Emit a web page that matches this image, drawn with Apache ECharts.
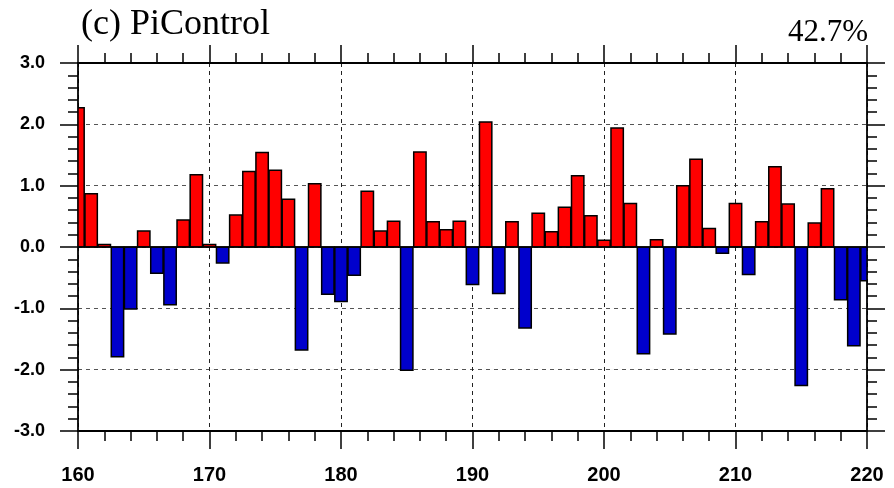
<!DOCTYPE html>
<html>
<head>
<meta charset="utf-8">
<script src="https://cdn.jsdelivr.net/npm/echarts@6/dist/echarts.min.js"></script>
<style>
html,body{margin:0;padding:0;background:#fff;}
#c{width:894px;height:488px;}
</style>
</head>
<body>
<div id="c"></div>
<script>
var years = [160,161,162,163,164,165,166,167,168,169,170,171,172,173,174,175,176,177,178,179,
             180,181,182,183,184,185,186,187,188,189,190,191,192,193,194,195,196,197,198,199,
             200,201,202,203,204,205,206,207,208,209,210,211,212,213,214,215,216,217,218,219,220];
var values = [2.27,0.87,0.04,-1.79,-1.01,0.26,-0.43,-0.94,0.44,1.18,
              0.04,-0.26,0.52,1.23,1.54,1.25,0.78,-1.68,1.03,-0.77,
              -0.89,-0.46,0.91,0.26,0.42,-2.01,1.55,0.41,0.28,0.42,
              -0.61,2.04,-0.76,0.41,-1.32,0.55,0.25,0.65,1.16,0.51,
              0.11,1.94,0.71,-1.74,0.12,-1.42,1.00,1.43,0.30,-0.10,
              0.71,-0.45,0.41,1.31,0.70,-2.26,0.39,0.95,-0.86,-1.61,-0.55];
var yTicks = ['-3.0','-2.0','-1.0','0.0','1.0','2.0','3.0'];
var titleText = '(c) PiControl';
var pctText = '42.7%';

var data = years.map(function(y, i){ return [y, values[i]]; });

var chart = echarts.init(document.getElementById('c'), null, {renderer:'canvas'});
var tickStyle = {color:'#000', width:1.5};
var xCommon = {
  type:'value', min:160, max:220, interval:10,
  axisLine:{show:true, onZero:false, lineStyle:{color:'#000', width:1.8}},
  axisTick:{show:true, inside:false, length:18, lineStyle:tickStyle},
  minorTick:{show:true, splitNumber:5, length:10, lineStyle:tickStyle}
};
var yCommon = {
  type:'value', min:-3, max:3, interval:1,
  axisLine:{show:true, onZero:false, lineStyle:{color:'#000', width:1.8}},
  axisTick:{show:true, inside:false, length:18, lineStyle:tickStyle},
  minorTick:{show:true, splitNumber:5, length:10, lineStyle:tickStyle}
};

function renderBar(params, api){
  var x = api.value(0), v = api.value(1);
  var p0 = api.coord([x, 0]);
  var p1 = api.coord([x, v]);
  var w = api.size([1, 0])[0] * 0.94;
  var cs = params.coordSys;
  var rect = echarts.graphic.clipRectByRect(
    {x: p0[0] - w / 2, y: Math.min(p0[1], p1[1]), width: w, height: Math.abs(p1[1] - p0[1])},
    {x: cs.x, y: cs.y, width: cs.width, height: cs.height});
  if (!rect) return null;
  return {
    type:'rect', shape:rect,
    style:{fill: v >= 0 ? '#ff0000' : '#0000cc', stroke:'#000', lineWidth:1.5}
  };
}

chart.setOption({
  animation:false,
  backgroundColor:'#fff',
  title:[
    {text:titleText, left:76, top:2, textStyle:{fontFamily:'Liberation Serif', fontSize:36, fontWeight:'normal', color:'#000'}},
    {text:pctText, right:21, top:12, textStyle:{fontFamily:'Liberation Serif', fontSize:31, fontWeight:'normal', color:'#000'}}
  ],
  grid:{left:78, right:27, top:63, bottom:57, containLabel:false},
  xAxis:[
    Object.assign({}, xCommon, {position:'bottom',
      axisLabel:{show:true, margin:34, fontFamily:'Liberation Sans', fontWeight:'bold', fontSize:20, color:'#000'},
      splitLine:{show:true, lineStyle:{color:'#222', width:1, type:[4,4]}}}),
    Object.assign({}, xCommon, {position:'top', axisLabel:{show:false}, splitLine:{show:false}})
  ],
  yAxis:[
    Object.assign({}, yCommon, {position:'left',
      axisLabel:{show:true, margin:33, fontFamily:'Liberation Sans', fontWeight:'bold', fontSize:18, color:'#000',
        formatter:function(v){ return yTicks[Math.round(v)+3]; }},
      splitLine:{show:true, lineStyle:{color:'#555', width:1, type:[4,4]}}}),
    Object.assign({}, yCommon, {position:'right', axisLabel:{show:false}, splitLine:{show:false}})
  ],
  series:[{
    type:'custom',
    xAxisIndex:0, yAxisIndex:0,
    data:data,
    encode:{x:0, y:1},
    renderItem:renderBar,
    clip:true,
    z:2
  },{
    type:'line', data:[], xAxisIndex:0, yAxisIndex:0,
    markLine:{
      silent:true, symbol:'none', label:{show:false},
      lineStyle:{color:'#000', width:1.5, type:'solid'},
      data:[{yAxis:0}]
    }
  }]
});
</script>
</body>
</html>
